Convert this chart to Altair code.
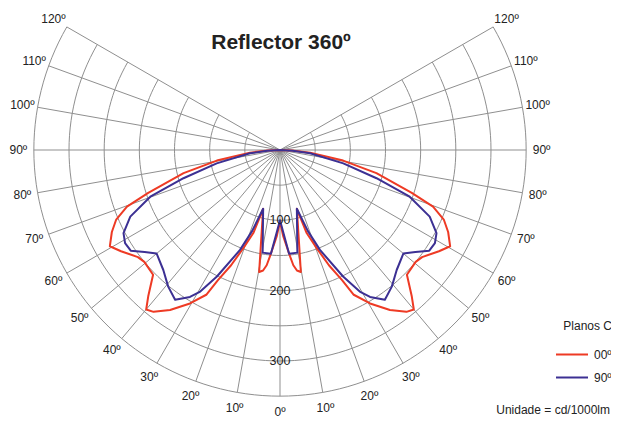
import altair as alt
import pandas as pd
import numpy as np

# ---- data (angle from nadir in degrees, luminous intensity in cd/1000lm); curves are mirrored on both sides
c0_angles = [0, 2.2, 5.4, 6.6, 8, 9.7, 16, 17.8, 20.5, 23, 25.5, 27, 30.4, 34.5, 38, 40, 42, 45.5,
             50.5, 53, 57.5, 60.5, 64, 67, 69.7, 72, 76.5, 80.5, 85, 88, 90]
c0_values = [102, 123, 152, 165, 173, 176, 87, 124, 149, 178, 205, 231, 253, 276, 292, 296, 280, 253,
             250, 253, 268, 278, 266, 253, 232, 197, 141, 91, 43, 17, 0]
c90_angles = [0, 5, 9.6, 16, 19, 21.8, 26.5, 29.4, 31.5, 35, 39.3, 44.2, 50, 53, 56, 59, 62, 66,
              70.2, 73.7, 78.1, 83.7, 87, 90]
c90_values = [100, 148, 148, 87, 122, 153, 201, 231, 245, 260, 251, 238, 229, 241, 256, 257, 252, 233,
              196, 143, 92, 43, 18, 0]
series_names = ["00º", "90º"]
series_colors = ["#EE3A24", "#3C3093"]

grid_radii = [50, 100, 150, 200, 250, 300, 350]
spoke_angles = list(range(-120, 121, 10))
angle_labels = list(range(-120, 121, 10))
radial_labels = [100, 200, 300]

FONT = "Liberation Sans"
TXT = "#222222"
GRID = "#8f8f8f"

# ---- geometry of the canvas
W, H = 603, 410
K = 0.7033          # pixels per cd/1000lm
CX, CY = 272, 142   # centre of the diagram inside the plot area
xs = alt.Scale(domain=[-CX / K, (W - CX) / K], nice=False, zero=False)
ys = alt.Scale(domain=[-(H - CY) / K, CY / K], nice=False, zero=False)
X = alt.X("px:Q", scale=xs, axis=None)
Y = alt.Y("py:Q", scale=ys, axis=None)


def polar(ch):
    return ch.transform_calculate(
        px="datum.r * sin(datum.theta * PI / 180)",
        py="-datum.r * cos(datum.theta * PI / 180)",
    )


# grid arcs
arc_rows = []
for rad in grid_radii:
    for i, t in enumerate(np.arange(-120, 120.5, 2.0)):
        arc_rows.append({"ring": rad, "theta": float(t), "r": rad, "o": i})
arcs = polar(alt.Chart(pd.DataFrame(arc_rows))).mark_line(color=GRID, strokeWidth=1).encode(
    x=X, y=Y, detail="ring:N", order="o:Q")

# spokes
spoke_rows = []
for a in spoke_angles:
    spoke_rows.append({"spoke": a, "theta": a, "r": 0, "o": 0})
    spoke_rows.append({"spoke": a, "theta": a, "r": grid_radii[-1], "o": 1})
spokes = polar(alt.Chart(pd.DataFrame(spoke_rows))).mark_line(color=GRID, strokeWidth=1).encode(
    x=X, y=Y, detail="spoke:N", order="o:Q")

# curves
curve_rows = []
for name, angs, vals in [(series_names[0], c0_angles, c0_values), (series_names[1], c90_angles, c90_values)]:
    left = [(-a, v) for a, v in zip(angs[::-1], vals[::-1])]
    right = [(a, v) for a, v in zip(angs[1:], vals[1:])]
    for i, (a, v) in enumerate(left + right):
        curve_rows.append({"series": name, "theta": a, "r": v, "o": i})
curves = polar(alt.Chart(pd.DataFrame(curve_rows))).mark_line(strokeWidth=2, strokeJoin="round").encode(
    x=X, y=Y, order="o:Q",
    color=alt.Color("series:N", scale=alt.Scale(domain=series_names, range=series_colors),
                    legend=alt.Legend(orient="none", legendX=547, legendY=312.5, title="Planos C",
                                      titleAnchor="end", titleFontSize=12, titleFontWeight="normal",
                                      titleColor=TXT, titleFont=FONT, titlePadding=14, padding=0,
                                      symbolType="stroke", symbolSize=1024, symbolStrokeWidth=2,
                                      clipHeight=16, rowPadding=7, labelOffset=5,
                                      labelFontSize=12, labelFont=FONT, labelColor=TXT)),
)

# angle labels
al = pd.DataFrame({"theta": angle_labels, "r": [372] * len(angle_labels),
                   "lab": [f"{abs(a)}º" for a in angle_labels]})
angle_text = polar(alt.Chart(al)).mark_text(font=FONT, fontSize=12, color=TXT, align="center",
                                            baseline="middle").encode(x=X, y=Y, text="lab:N")

rl = pd.DataFrame({"theta": [0] * len(radial_labels), "r": radial_labels,
                   "lab": [str(v) for v in radial_labels]})
radial_text = polar(alt.Chart(rl)).mark_text(font=FONT, fontSize=12.5, color=TXT, align="center",
                                             baseline="middle").encode(x=X, y=Y, text="lab:N")

title = alt.Chart(pd.DataFrame({"t": ["Reflector 360º"]})).mark_text(
    font=FONT, fontSize=21, fontWeight="bold", color=TXT, align="center", baseline="middle"
).encode(x=alt.value(273), y=alt.value(35), text="t:N")

unit = alt.Chart(pd.DataFrame({"t": ["Unidade = cd/1000lm"]})).mark_text(
    font=FONT, fontSize=12, color=TXT, align="right", baseline="middle"
).encode(x=alt.value(602), y=alt.value(402), text="t:N")

chart = alt.layer(arcs, spokes, curves, angle_text, radial_text, title, unit).properties(
    width=W, height=H, padding=0, autosize=alt.AutoSizeParams(type="none")
).configure_view(stroke=None)

chart.save("out.html", embed_options={"renderer": "svg", "actions": False})
